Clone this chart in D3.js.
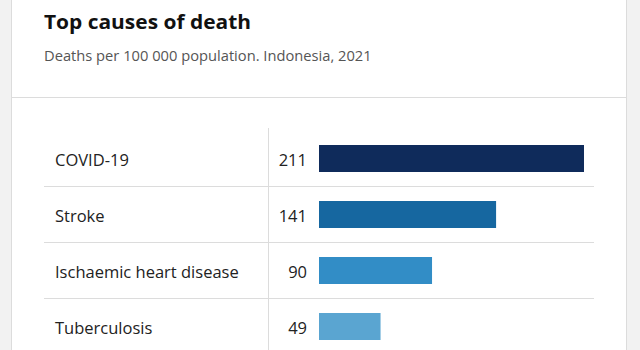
<!DOCTYPE html>
<html>
<head>
<meta charset="utf-8">
<script src="https://cdn.jsdelivr.net/npm/d3@7"></script>
<style>
  html, body { margin: 0; padding: 0; background: #f2f2f2; }
  svg { display: block; }
  text { font-family: "Open Sans", "Noto Sans", sans-serif; }
</style>
</head>
<body>
<svg id="chart" width="640" height="350"></svg>
<script>
const title = "Top causes of death";
const subtitle = "Deaths per 100 000 population. Indonesia, 2021";
const categories = ["COVID-19", "Stroke", "Ischaemic heart disease", "Tuberculosis"];
const values = [211, 141, 90, 49];
const colors = ["#0f2b5b", "#1667a0", "#328dc6", "#5aa5d1"];

const svg = d3.select("#chart");
const W = 640, H = 350;

// card
svg.append("rect").attr("x", 11.5).attr("y", -10).attr("width", 615).attr("height", H + 20)
  .attr("fill", "#fff").attr("stroke", "#dcdcdc");
svg.append("line").attr("x1", 12).attr("x2", 626).attr("y1", 97.5).attr("y2", 97.5)
  .attr("stroke", "#dcdcdc");

svg.append("text").attr("x", 44).attr("y", 28.5).attr("font-size", 20).attr("font-weight", 700)
  .attr("textLength", 207).attr("lengthAdjust", "spacingAndGlyphs")
  .attr("fill", "#111").text(title);
svg.append("text").attr("x", 44).attr("y", 61).attr("font-size", 14.7).attr("fill", "#555").text(subtitle);

const y = d3.scaleBand().domain(categories).range([130, 130 + 56 * categories.length]).paddingInner(0);
const x = d3.scaleLinear().domain([0, d3.max(values)]).range([319, 584]);
const data = categories.map((c, i) => ({ c, v: values[i], col: colors[i] }));

// row separators
svg.append("g").selectAll("line").data(categories.slice(1)).join("line")
  .attr("x1", 44).attr("x2", 594)
  .attr("y1", d => Math.round(y(d)) + 0.5).attr("y2", d => Math.round(y(d)) + 0.5)
  .attr("stroke", "#dcdcdc");

// vertical divider
svg.append("line").attr("x1", 268.5).attr("x2", 268.5).attr("y1", 128).attr("y2", H)
  .attr("stroke", "#dcdcdc");

const rows = svg.append("g").selectAll("g").data(data).join("g");
rows.append("rect")
  .attr("x", x(0))
  .attr("y", d => y(d.c) + 15)
  .attr("width", d => x(d.v) - x(0))
  .attr("height", 27)
  .attr("fill", d => d.col);
rows.append("text")
  .attr("x", 55).attr("y", d => y(d.c) + y.bandwidth() / 2 + 7.5)
  .attr("font-size", 16.5).attr("fill", "#222").text(d => d.c);
rows.append("text")
  .attr("x", 307).attr("y", d => y(d.c) + y.bandwidth() / 2 + 7.5)
  .attr("text-anchor", "end")
  .attr("font-size", 16.5).attr("fill", "#222").text(d => d.v);
</script>
</body>
</html>
